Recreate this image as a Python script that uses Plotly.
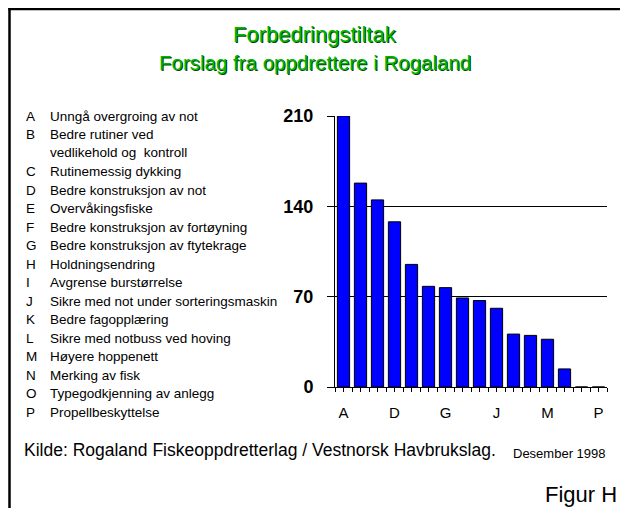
import plotly.graph_objects as go

# forslag (antall svar) per tiltak, A..P
letters = ["A", "B", "C", "D", "E", "F", "G", "H",
           "I", "J", "K", "L", "M", "N", "O", "P"]
descriptions = [
    "Unngå overgroing av not",
    "Bedre rutiner ved<br>vedlikehold og  kontroll",
    "Rutinemessig dykking",
    "Bedre konstruksjon av not",
    "Overvåkingsfiske",
    "Bedre konstruksjon av fortøyning",
    "Bedre konstruksjon av ftytekrage",
    "Holdningsendring",
    "Avgrense burstørrelse",
    "Sikre med not under sorteringsmaskin",
    "Bedre fagopplæring",
    "Sikre med notbuss ved hoving",
    "Høyere hoppenett",
    "Merking av fisk",
    "Typegodkjenning av anlegg",
    "Propellbeskyttelse",
]
values = [210, 158, 145, 128, 95, 78, 77, 69, 67, 61, 41, 40, 37, 14, 0, 0]
y_ticks = [0, 70, 140, 210]
x_labelled = ["A", "D", "G", "J", "M", "P"]

# the page has an 8px body margin, so the figure is made smaller to keep
# the page free of scrollbars; positions below are page pixels
OFF = 8
W, H = 630 - 2 * OFF, 500
L, R, T, B = 335, 607, 116, 387   # plot area in page pixels
FONT = "Liberation Sans, Arial, sans-serif"


def px(x):
    return (x - L) / (R - L)


def py(y):
    return 1 - (y - T) / (B - T)


pos = list(range(len(letters)))

fig = go.Figure(go.Bar(
    x=pos, y=values,
    marker=dict(color="#0000FF", line=dict(color="#000000", width=1)),
    width=0.72,
    hoverinfo="y",
))

ann = []
# titles, green with a dark drop shadow
for txt, yc, size in [("Forbedringstiltak", 34, 22),
                      ("Forslag fra oppdrettere i Rogaland", 63, 20.5)]:
    ann.append(dict(text=txt, x=px(315), y=py(yc), xanchor="center",
                    font=dict(family=FONT, size=size, color="#00B400",
                              shadow="1px 1px 0px #004800")))

# letter legend on the left
line = 0
for let, desc in zip(letters, descriptions):
    n = desc.count("<br>") + 1
    y0 = 116 + 18.5 * line
    ann.append(dict(text=let, x=px(24), y=py(y0), xanchor="left",
                    font=dict(family=FONT, size=13.5, color="#000")))
    ann.append(dict(text=desc, x=px(48), y=py(y0 + 18.5 * (n - 1) / 2),
                    xanchor="left", align="left",
                    font=dict(family=FONT, size=13.5, color="#000")))
    line += n

ann += [
    dict(text="Kilde: Rogaland Fiskeoppdretterlag / Vestnorsk Havbrukslag.",
         x=px(22), y=py(450), xanchor="left",
         font=dict(family=FONT, size=17.5, color="#000")),
    dict(text="Desember 1998", x=px(608), y=py(453), xanchor="right",
         font=dict(family=FONT, size=13, color="#000")),
    dict(text="Figur H", x=px(619), y=py(494), xanchor="right",
         font=dict(family=FONT, size=22, color="#000")),
]
for a in ann:
    a.update(xref="paper", yref="paper", showarrow=False, yanchor="middle")

# frame: only the left and top edges are visible in the picture;
# kept inside the figure so the page does not get scrollbars
frame = dict(color="#000", width=2.5)
right_edge, bottom_edge = OFF + W - 2, OFF + H
shapes = [
    dict(type="line", xref="paper", yref="paper",
         x0=px(9.5), x1=px(9.5), y0=py(7.8), y1=py(bottom_edge), line=frame),
    dict(type="line", xref="paper", yref="paper",
         x0=px(8.3), x1=px(right_edge), y0=py(9), y1=py(9), line=frame),
]

fig.update_layout(
    width=W, height=H,
    margin=dict(l=L - OFF, r=OFF + W - R, t=T - OFF, b=OFF + H - B, pad=0),
    paper_bgcolor="white", plot_bgcolor="white",
    showlegend=False,
    annotations=ann,
    shapes=shapes,
    xaxis=dict(
        range=[-0.5, len(letters) - 0.5],
        tickmode="array",
        tickvals=[letters.index(c) for c in x_labelled],
        ticktext=x_labelled,
        ticks="outside", ticklen=4, tickcolor="#000",
        minor=dict(tickmode="linear", tick0=-0.5, dtick=0.5,
                   ticks="outside", ticklen=4, tickcolor="#000"),
        showline=True, linecolor="#000", linewidth=1,
        showgrid=False, zeroline=False,
        tickfont=dict(family=FONT, size=15, color="#000"),
        ticklabelstandoff=8,
    ),
    yaxis=dict(
        range=[0, 210],
        tickmode="array", tickvals=y_ticks,
        ticks="outside", ticklen=7, tickcolor="#000",
        showline=True, linecolor="#000", linewidth=1,
        showgrid=True, gridcolor="#000", gridwidth=1,
        zeroline=False,
        tickfont=dict(family=FONT, size=18, color="#000", weight="bold"),
        ticklabelstandoff=10,
    ),
)

fig.write_html("out.html")
